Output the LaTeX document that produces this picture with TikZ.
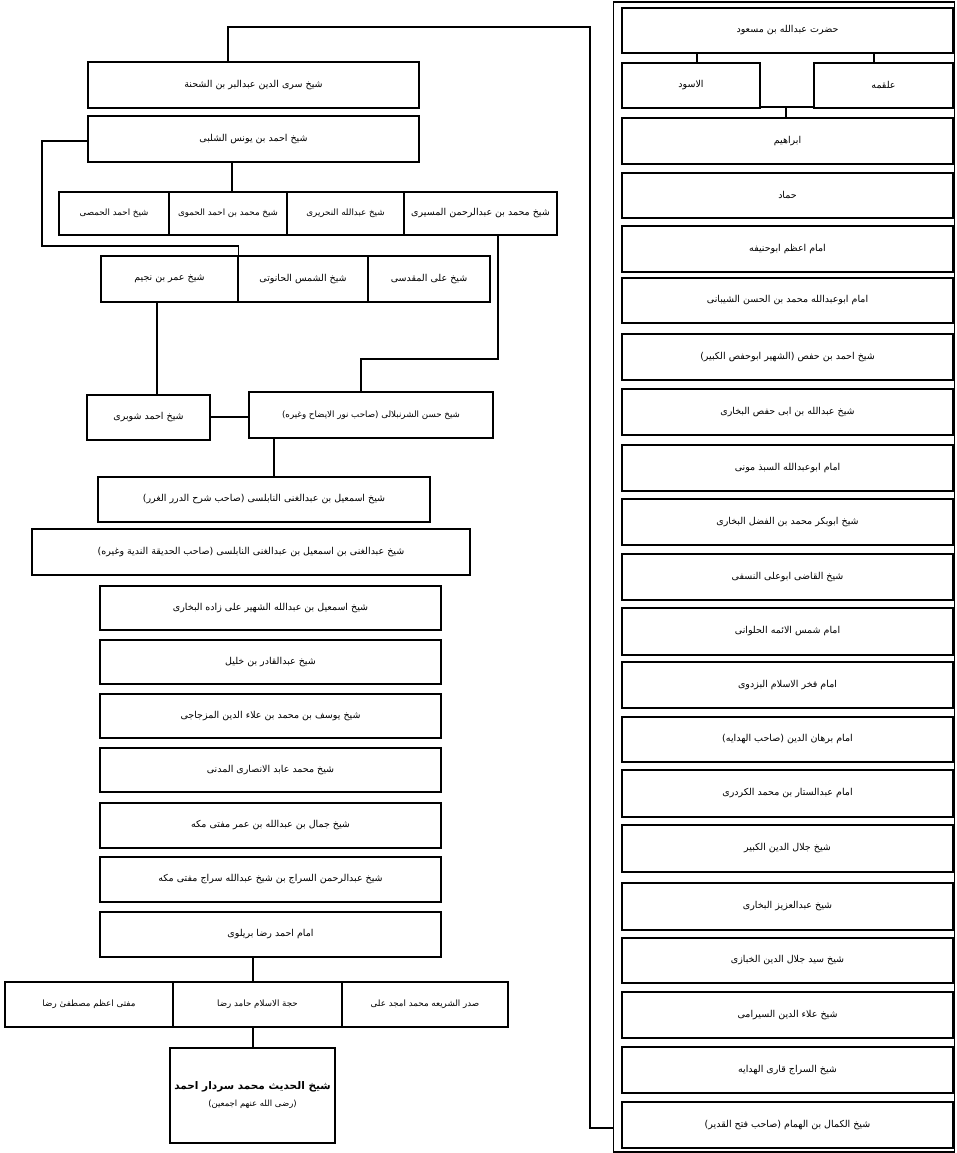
\documentclass[tikz,border=0pt]{standalone}
\usepackage{fontspec}
\newfontfamily\ur[Script=Arabic]{DejaVu Sans}
\TeXXeTstate=1
\tikzset{
  box/.style={draw, line width=1.7pt, inner sep=0pt, font=\ur\fontsize{9.5}{11}\selectfont},
  smallbox/.style={box, font=\ur\fontsize{8.7}{10}\selectfont},
  conn/.style={line width=1.2pt},
}
\newcommand\ubox[7][]{%
  \node[box, #1, minimum width={(#5)-(#3)}, minimum height={(#6)-(#4)}] (#2)
    at ({((#3)+(#5))/2},{((#4)+(#6))/2}) {#7};}
\begin{document}
\begin{tikzpicture}[x=1pt,y=-1pt]
\useasboundingbox (0,0) rectangle (956,1153);
\fill[white] (0,0) rectangle (956,1153);
% right column frame
\node[draw, line width=1.4pt, inner sep=0pt, minimum width=341, minimum height=1150] (frame) at (784,577) {};
\ubox{hazrat}{622}{8}{953}{53}{\beginR حضرت عبدالله بن مسعود\endR}
\ubox{aswad}{622}{63}{760}{108}{\beginR الاسود\endR}
\ubox{alqama}{814}{63}{953}{108}{\beginR علقمه\endR}
\ubox{abr}{622}{118}{953}{164}{\beginR ابراهیم\endR}
\ubox{hammad}{622}{173}{953}{218}{\beginR حماد\endR}
\ubox{hanifa}{622}{226}{953}{272}{\beginR امام اعظم ابوحنیفه\endR}
\ubox{shaybani}{622}{278}{953}{323}{\beginR امام ابوعبدالله محمد بن الحسن الشیبانی\endR}
\ubox{hafs}{622}{334}{953}{380}{\beginR شیخ احمد بن حفص (الشهیر ابوحفص الکبیر)\endR}
\ubox{abihafs}{622}{389}{953}{435}{\beginR شیخ عبدالله بن ابی حفص البخاری\endR}
\ubox{sabadh}{622}{445}{953}{491}{\beginR امام ابوعبدالله السبذ مونی\endR}
\ubox{fadl}{622}{499}{953}{545}{\beginR شیخ ابوبکر محمد بن الفضل البخاری\endR}
\ubox{nasafi}{622}{554}{953}{600}{\beginR شیخ القاضی ابوعلی النسفی\endR}
\ubox{halwani}{622}{608}{953}{655}{\beginR امام شمس الائمه الحلوانی\endR}
\ubox{bazdawi}{622}{662}{953}{708}{\beginR امام فخر الاسلام البزدوی\endR}
\ubox{burhan}{622}{717}{953}{762}{\beginR امام برهان الدین (صاحب الهدایه)\endR}
\ubox{kardari}{622}{770}{953}{817}{\beginR امام عبدالستار بن محمد الکردری\endR}
\ubox{jalal}{622}{825}{953}{872}{\beginR شیخ جلال الدین الکبیر\endR}
\ubox{aziz}{622}{883}{953}{930}{\beginR شیخ عبدالعزیز البخاری\endR}
\ubox{khabbazi}{622}{938}{953}{983}{\beginR شیخ سید جلال الدین الخبازی\endR}
\ubox{sirami}{622}{992}{953}{1038}{\beginR شیخ علاء الدین السیرامی\endR}
\ubox{siraj}{622}{1047}{953}{1093}{\beginR شیخ السراج قاری الهدایه\endR}
\ubox{kamal}{622}{1102}{953}{1148}{\beginR شیخ الکمال بن الهمام (صاحب فتح القدیر)\endR}
% left side
\ubox{shahna}{88}{62}{419}{108}{\beginR شیخ سری الدین عبدالبر بن الشحنة\endR}
\ubox{shalabi}{88}{116}{419}{162}{\beginR شیخ احمد بن یونس الشلبی\endR}
\ubox[smallbox]{himsi}{59}{192}{169}{235}{\beginR شیخ احمد الحمصی\endR}
\ubox[smallbox]{hamawi}{169}{192}{287}{235}{\beginR شیخ محمد بن احمد الحموی\endR}
\ubox[smallbox]{nahriri}{287}{192}{404}{235}{\beginR شیخ عبدالله النحریری\endR}
\ubox{masiri}{404}{192}{557}{235}{\beginR شیخ محمد بن عبدالرحمن المسیری\endR}
\ubox{umar}{101}{256}{238}{302}{\beginR شیخ عمر بن نجیم\endR}
\ubox{hanuti}{238}{256}{368}{302}{\beginR شیخ الشمس الحانوتی\endR}
\ubox{maqdisi}{368}{256}{490}{302}{\beginR شیخ علی المقدسی\endR}
\ubox{shubri}{87}{395}{210}{440}{\beginR شیخ احمد شوبری\endR}
\ubox[smallbox]{shurunbulali}{249}{392}{493}{438}{\beginR شیخ حسن الشرنبلالی (صاحب نور الایضاح وغیره)\endR}
\ubox{ismaila}{98}{477}{430}{522}{\beginR شیخ اسمعیل بن عبدالغنی النابلسی (صاحب شرح الدرر الغرر)\endR}
\ubox{abdulghani}{32}{529}{470}{575}{\beginR شیخ عبدالغنی بن اسمعیل بن عبدالغنی النابلسی (صاحب الحدیقة الندیة وغیره)\endR}
\ubox{ismailb}{100}{586}{441}{630}{\beginR شیخ اسمعیل بن عبدالله الشهیر علی زاده البخاری\endR}
\ubox{qadir}{100}{640}{441}{684}{\beginR شیخ عبدالقادر بن خلیل\endR}
\ubox{yusuf}{100}{694}{441}{738}{\beginR شیخ یوسف بن محمد بن علاء الدین المزجاجی\endR}
\ubox{abid}{100}{748}{441}{792}{\beginR شیخ محمد عابد الانصاری المدنی\endR}
\ubox{jamal}{100}{803}{441}{848}{\beginR شیخ جمال بن عبدالله بن عمر مفتی مکه\endR}
\ubox{sarraj}{100}{857}{441}{902}{\beginR شیخ عبدالرحمن السراج بن شیخ عبدالله سراج مفتی مکه\endR}
\ubox{raza}{100}{912}{441}{957}{\beginR امام احمد رضا بریلوی\endR}
\ubox[smallbox]{mufti}{5}{982}{173}{1027}{\beginR مفتی اعظم مصطفیٰ رضا\endR}
\ubox[smallbox]{hamid}{173}{982}{342}{1027}{\beginR حجة الاسلام حامد رضا\endR}
\ubox[smallbox]{sadr}{342}{982}{508}{1027}{\beginR صدر الشریعه محمد امجد علی\endR}
\node[box, minimum width=165, minimum height=95, align=center] (sardar) at (252.5,1095.5)
  {{\fontsize{10.5}{14}\selectfont\bfseries\beginR شیخ الحدیث محمد سردار احمد\endR}\\[6pt]
   {\fontsize{8.5}{10}\selectfont\beginR (رضی الله عنهم اجمعین)\endR}};
% connectors
\coordinate (ja) at (697,0);
\coordinate (jb) at (874,0);
\coordinate (jc) at (786,107);
\draw[conn] (hazrat.south -| ja) -- (aswad.north -| ja);
\draw[conn] (hazrat.south -| jb) -- (alqama.north -| jb);
\draw[conn] (aswad.east |- jc) -- (alqama.west |- jc);
\draw[conn] (jc) -- (jc |- abr.north);
\coordinate (k1) at (590,1128);
\coordinate (k2) at (590,27);
\coordinate (k3) at (228,27);
\draw[conn] (frame.west |- k1) -- (k1) -- (k2) -- (k3) -- (k3 |- shahna.north);
\coordinate (s1) at (232,0);
\draw[conn] (shalabi.south -| s1) -- (hamawi.north -| s1);
\coordinate (l1) at (42,141);
\coordinate (l2) at (42,246);
\draw[conn] (shalabi.west |- l1) -- (l1) -- (l2) -- (umar.north east |- l2) -- (umar.north east);
\coordinate (m1) at (498,359);
\coordinate (m2) at (361,359);
\draw[conn] (masiri.south -| m1) -- (m1) -- (m2) -- (m2 |- shurunbulali.north);
\coordinate (u1) at (157,0);
\draw[conn] (umar.south -| u1) -- (shubri.north -| u1);
\coordinate (h1) at (0,417);
\draw[conn] (shubri.east |- h1) -- (shurunbulali.west |- h1);
\coordinate (n1) at (274,0);
\draw[conn] (shurunbulali.south -| n1) -- (ismaila.north -| n1);
\coordinate (r1) at (253,0);
\draw[conn] (raza.south -| r1) -- (hamid.north -| r1);
\draw[conn] (hamid.south -| r1) -- (sardar.north -| r1);
\end{tikzpicture}
\end{document}
